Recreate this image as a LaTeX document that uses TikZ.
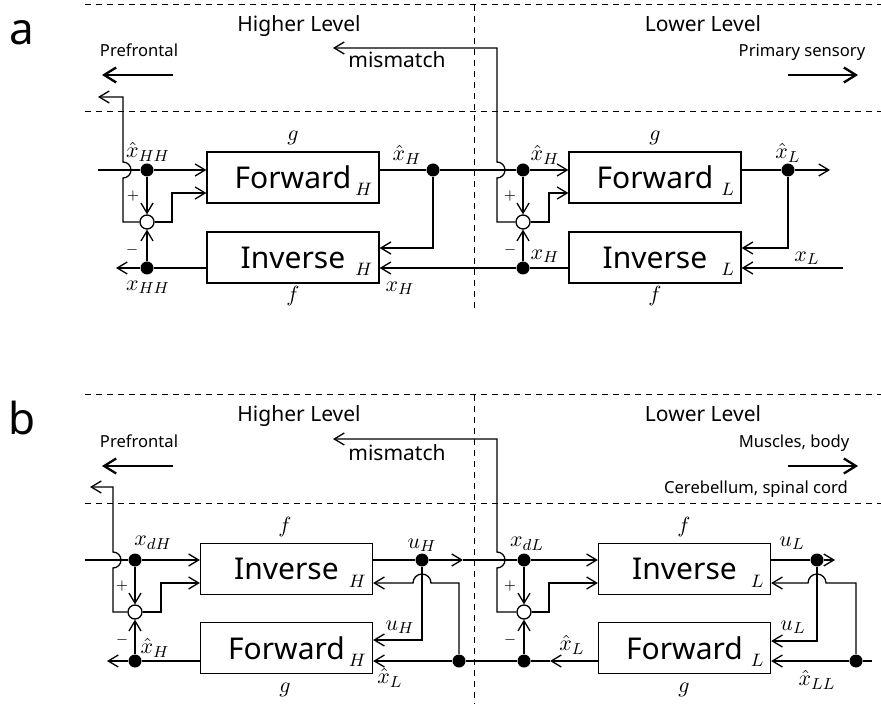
\documentclass[tikz,border=0pt]{standalone}
\usepackage{fontspec}
\setmainfont{Noto Sans}
\usetikzlibrary{arrows.meta,calc,positioning}
\tikzset{
  blk/.style={draw, line width=0.65pt, minimum width=86pt, minimum height=25.5pt, inner sep=0pt, font=\fontsize{15}{18}\selectfont},
  sub/.style={anchor=south east, inner sep=0pt, xshift=-3.5pt, yshift=3.5pt, font=\fontsize{9.5}{10}\selectfont},
  dot/.style={circle, fill=black, inner sep=0pt, minimum size=6.5pt},
  sumj/.style={circle, draw, fill=white, line width=0.65pt, inner sep=0pt, minimum size=7pt},
  lbl/.style={font=\fontsize{11}{12}\selectfont, inner sep=0pt},
  sgn/.style={font=\fontsize{7}{8}\selectfont, inner sep=0pt},
  head/.style={font=\fontsize{10.5}{12}\selectfont, inner sep=0pt, anchor=base},
  area/.style={font=\fontsize{8.3}{10}\selectfont, inner sep=0pt, anchor=base},
  panel/.style={font=\fontsize{22}{26}\selectfont, inner sep=0pt, anchor=base},
  sep/.style={dash pattern=on 3pt off 2.5pt, line width=0.5pt},
  flow/.style={->, line width=1.15pt, >={Straight Barb[length=6pt,width=7.5pt]}}
}
\begin{document}
\begin{tikzpicture}[x=0.5pt, y=-0.5pt, line width=0.65pt, >={Straight Barb[length=5pt,width=6pt]}]
\useasboundingbox (0,0) rectangle (881,704);

% panel a: frame and headings
\draw[sep] (85,5) -- (881,5);
\draw[sep] (85,112) -- (881,112);
\draw[sep] (474,5) -- (474,310);
\node[panel] (aTag) at (22,45) {a};
\node[head] (aHi) at (299,32) {Higher Level};
\node[head] (aLo) at (703,32) {Lower Level};
\node[area] (aPre) at (139,57) {Prefrontal};
\node[area] (aPri) at (802,57) {Primary sensory};
\node[head] (aMm) at (397,68) {mismatch};
\coordinate (aPFs) at (173,75); \coordinate (aPFe) at (102,75);
\coordinate (aPSs) at (788,75); \coordinate (aPSe) at (858,75);
\draw[flow] (aPFs) -- (aPFe);
\draw[flow] (aPSs) -- (aPSe);

% panel a: blocks
\node[blk, label={[sub]south east:$H$}] (aFH) at (293,177.5) {Forward};
\node[blk, label={[sub]south east:$H$}] (aIH) at (293,257.5) {Inverse};
\node[blk, label={[sub]south east:$L$}] (aFL) at (655,177.5) {Forward};
\node[blk, label={[sub]south east:$L$}] (aIL) at (655,257.5) {Inverse};

% panel a: junctions
\node[dot] (aHH) at (147,170) {};
\node[sumj] (aSH) at (147,222) {};
\node[dot] (aXHH) at (147,268) {};
\node[dot] (aH) at (433,170) {};
\node[dot] (aHL) at (523,170) {};
\node[sumj] (aSL) at (523,222) {};
\node[dot] (aXH) at (523,268) {};
\node[dot] (aL) at (788,170) {};
\coordinate (aIn) at (98,170);
\coordinate (aOut) at (116,268);
\coordinate (aJH) at (123,170);
\coordinate (aFB) at (98,97);
\coordinate (aJL) at (497,170);
\coordinate (aMis) at (333,48);
\coordinate (aOutL) at (830,170);
\coordinate (aInL) at (843,268);

% panel a: higher level
\draw (aIn) -- (aHH);
\draw[->] (aHH) -- (aFH.west |- aHH);
\draw[->] (aHH) -- (aSH);
\draw[->] (aXHH) -- (aSH);
\draw[->] (aIH.west |- aXHH) -- (aXHH) -- (aOut);
\draw[->] (aSH) -- ++(25,0) |- ([yshift=-7.75pt]aFH.west);
\draw[->] (aSH) -| ([yshift=-4pt]aJH) arc[start angle=-90, end angle=90, radius=4pt] |- (aFB);
\draw (aFH.east |- aH) -- (aH) -- (aHL);
\draw[->] (aH) |- ([yshift=4.75pt]aIH.east);
\draw[->] (aIL.west |- aXH) -- (aXH) -- (aIH.east |- aXH);
% panel a: lower level
\draw[->] (aHL) -- (aFL.west |- aHL);
\draw[->] (aHL) -- (aSL);
\draw[->] (aXH) -- (aSL);
\draw[->] (aSL) -- ++(26,0) |- ([yshift=-7.75pt]aFL.west);
\draw[->] (aSL) -| ([yshift=-4pt]aJL) arc[start angle=-90, end angle=90, radius=4pt] |- (aMis);
\draw (aFL.east |- aL) -- (aL);
\draw[->] (aL) -- (aOutL);
\draw[->] (aL) |- ([yshift=4.75pt]aIL.east);
\draw[->] (aInL) -- (aIL.east |- aInL);

% panel a: labels
\node[lbl] (aL1) at (148,152) {$\hat x_{HH}$};
\node[lbl] (aL2) at (148,287) {$x_{HH}$};
\node[sgn] (aL3) at (133,196) {$+$};
\node[sgn] (aL4) at (132,250) {$-$};
\node[lbl] (aL5) at (293,138) {$g$};
\node[lbl] (aL6) at (293,296) {$f$};
\node[lbl] (aL7) at (407,155) {$\hat x_H$};
\node[lbl] (aL8) at (400,288) {$x_H$};
\node[lbl] (aL9) at (545,155) {$\hat x_H$};
\node[lbl] (aL10) at (545,256) {$x_H$};
\node[sgn] (aL11) at (510,196) {$+$};
\node[sgn] (aL12) at (510,250) {$-$};
\node[lbl] (aL13) at (655,138) {$g$};
\node[lbl] (aL14) at (655,296) {$f$};
\node[lbl] (aL15) at (788,153) {$\hat x_L$};
\node[lbl] (aL16) at (807,258) {$x_L$};

% panel b: frame and headings
\draw[sep] (85,395) -- (881,395);
\draw[sep] (85,503) -- (881,503);
\draw[sep] (474,395) -- (474,704);
\node[panel] (bTag) at (22,435) {b};
\node[head] (bHi) at (299,422) {Higher Level};
\node[head] (bLo) at (703,422) {Lower Level};
\node[area] (bPre) at (139,447) {Prefrontal};
\node[area] (bMus) at (794,447) {Muscles, body};
\node[area] (bCer) at (756,493) {Cerebellum, spinal cord};
\node[head] (bMm) at (397,460) {mismatch};
\coordinate (bPFs) at (173,466); \coordinate (bPFe) at (102,466);
\coordinate (bMBs) at (788,466); \coordinate (bMBe) at (858,466);
\draw[flow] (bPFs) -- (bPFe);
\draw[flow] (bMBs) -- (bMBe);

% panel b: blocks
\node[blk, label={[sub]south east:$H$}] (bIH) at (286.5,569) {Inverse};
\node[blk, label={[sub]south east:$H$}] (bFH) at (286.5,648) {Forward};
\node[blk, label={[sub]south east:$L$}] (bIL) at (684.5,569) {Inverse};
\node[blk, label={[sub]south east:$L$}] (bFL) at (684.5,648) {Forward};

% panel b: junctions
\node[dot] (bdH) at (135,560) {};
\node[sumj] (bSH) at (135,612) {};
\node[dot] (bxH) at (135,661) {};
\node[dot] (buH) at (422,560) {};
\node[dot] (bxL) at (459,661) {};
\node[dot] (bdL) at (524,560) {};
\node[sumj] (bSL) at (524,612) {};
\node[dot] (bxLb) at (524,661) {};
\node[dot] (buL) at (817,560) {};
\node[dot] (bxLL) at (856,661) {};
\coordinate (bIn) at (85,560);
\coordinate (bOut) at (107,661);
\coordinate (bJH) at (113,560);
\coordinate (bFB) at (90,487);
\coordinate (bMidH) at (463,560);
\coordinate (bKH) at (422,583);
\coordinate (bJL) at (497,560);
\coordinate (bMis) at (333,439);
\coordinate (bMidL) at (550,661);
\coordinate (bOutL) at (835,560);
\coordinate (bKL) at (817,583);
\coordinate (bInL) at (872,661);

% panel b: higher level
\draw (bIn) -- (bdH);
\draw[->] (bdH) -- (bIH.west |- bdH);
\draw[->] (bdH) -- (bSH);
\draw[->] (bxH) -- (bSH);
\draw[->] (bFH.west |- bxH) -- (bxH) -- (bOut);
\draw[->] (bSH) -- ++(26,0) |- ([yshift=-7pt]bIH.west);
\draw[->] (bSH) -| ([yshift=-4pt]bJH) arc[start angle=-90, end angle=90, radius=4pt] |- (bFB);
\draw (bIH.east |- buH) -- (buH);
\draw[->] (buH) -- (bMidH);
\draw (bMidH) -- (bdL);
\draw[->] (buH) |- ([yshift=4pt]bFH.east);
\draw[->] (bxL) |- ([xshift=4.5pt]bKH) arc[start angle=0, end angle=180, radius=4.5pt] -- ([yshift=-7pt]bIH.east);
\draw[->] (bMidL) -- (bxLb) -- (bxL) -- (bFH.east |- bxL);
% panel b: lower level
\draw[->] (bdL) -- (bIL.west |- bdL);
\draw[->] (bdL) -- (bSL);
\draw[->] (bxLb) -- (bSL);
\draw[->] (bFL.west |- bxLb) -- (bMidL);
\draw[->] (bSL) -- ++(25,0) |- ([yshift=-7pt]bIL.west);
\draw[->] (bSL) -| ([yshift=-4pt]bJL) arc[start angle=-90, end angle=90, radius=4pt] |- (bMis);
\draw (bIL.east |- buL) -- (buL);
\draw[->] (buL) -- (bOutL);
\draw[->] (buL) |- ([yshift=3.5pt]bFL.east);
\draw[->] (bxLL) |- ([xshift=4.5pt]bKL) arc[start angle=0, end angle=180, radius=4.5pt] -- ([yshift=-7pt]bIL.east);
\draw[->] (bInL) -- (bxLL) -- (bFL.east |- bxLL);

% panel b: labels
\node[lbl] (bL1) at (153,543) {$x_{dH}$};
\node[sgn] (bL2) at (122,586) {$+$};
\node[sgn] (bL3) at (122,640) {$-$};
\node[lbl] (bL4) at (155,648) {$\hat x_H$};
\node[lbl] (bL5) at (285,527) {$f$};
\node[lbl] (bL6) at (285,690) {$g$};
\node[lbl] (bL7) at (422,545) {$u_H$};
\node[lbl] (bL8) at (400,627) {$u_H$};
\node[lbl] (bL9) at (390,678) {$\hat x_L$};
\node[lbl] (bL10) at (527,544) {$x_{dL}$};
\node[sgn] (bL11) at (510,586) {$+$};
\node[sgn] (bL12) at (510,640) {$-$};
\node[lbl] (bL13) at (572,645) {$\hat x_L$};
\node[lbl] (bL14) at (684,527) {$f$};
\node[lbl] (bL15) at (684,690) {$g$};
\node[lbl] (bL16) at (792,543) {$u_L$};
\node[lbl] (bL17) at (793,627) {$u_L$};
\node[lbl] (bL18) at (817,680) {$\hat x_{LL}$};
\end{tikzpicture}
\end{document}
